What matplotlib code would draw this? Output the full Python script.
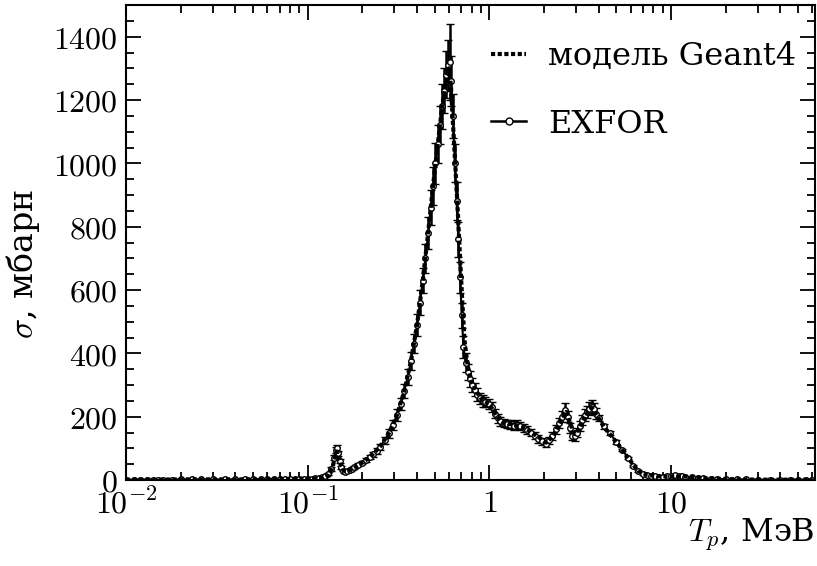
import matplotlib
matplotlib.use("Agg")
import matplotlib.pyplot as plt
from matplotlib.lines import Line2D
from matplotlib.ticker import FixedLocator, FuncFormatter, MultipleLocator, LogLocator, NullFormatter

plt.rcParams['mathtext.fontset'] = 'cm'
plt.rcParams['font.family'] = ['DejaVu Serif', 'Liberation Serif']

# EXFOR data (T_p in MeV, sigma in mbarn, error)
exfor_x = [0.010, 0.011, 0.012, 0.013, 0.014, 0.015, 0.016, 0.018, 0.020, 0.023, 0.026, 0.030,
           0.035, 0.040, 0.045, 0.050, 0.055, 0.060, 0.065, 0.070, 0.075, 0.080, 0.085, 0.090,
           0.095, 0.100, 0.105, 0.110, 0.115, 0.120, 0.125, 0.130, 0.135, 0.140, 0.143, 0.145,
           0.147, 0.150, 0.153, 0.156, 0.160, 0.165, 0.170, 0.175, 0.180, 0.190, 0.200, 0.210,
           0.220, 0.230, 0.240, 0.250, 0.265, 0.280, 0.295, 0.310, 0.325, 0.340, 0.355, 0.370,
           0.385, 0.400, 0.415, 0.430, 0.445, 0.460, 0.475, 0.490, 0.505, 0.520, 0.535, 0.550,
           0.565, 0.580, 0.595, 0.605, 0.615, 0.630, 0.645, 0.660, 0.675, 0.690, 0.705, 0.720,
           0.740, 0.760, 0.780, 0.800, 0.830, 0.860, 0.890, 0.920, 0.950, 0.990, 1.03, 1.07,
           1.11, 1.15, 1.20, 1.25, 1.30, 1.36, 1.42, 1.48, 1.55, 1.62, 1.70, 1.78, 1.86, 1.95,
           2.04, 2.13, 2.22, 2.32, 2.42, 2.52, 2.62, 2.70, 2.78, 2.86, 2.95, 3.05, 3.15, 3.25,
           3.35, 3.45, 3.55, 3.65, 3.75, 3.85, 4.00, 4.30, 4.60, 5.00, 5.40, 5.80, 6.20, 6.60,
           7.00, 7.40, 7.80, 8.20, 8.60, 9.00, 9.50, 10.0, 10.5, 11.0, 11.5, 12.0, 13.0, 14.0,
           15.0, 16.5, 18.0, 20.0, 23.0, 26.0, 30.0, 35.0, 40.0, 45.0, 50.0, 55.0, 60.0]
exfor_y = [1, 1, 1, 1, 1, 1, 1, 1, 2, 2, 2, 2,
           2, 2, 2, 2, 3, 3, 3, 3, 3, 3, 3, 3,
           3, 4, 4, 5, 6, 8, 12, 18, 35, 70, 95, 100,
           85, 60, 40, 30, 26, 28, 32, 36, 40, 48, 55, 64,
           72, 82, 92, 105, 125, 148, 175, 205, 240, 280, 325, 375,
           430, 490, 560, 630, 700, 780, 860, 930, 1000, 1060, 1120, 1180,
           1230, 1280, 1310, 1320, 1260, 1150, 1000, 880, 760, 640, 520, 420,
           370, 340, 320, 300, 285, 270, 258, 250, 245, 240, 230, 210,
           195, 185, 180, 178, 175, 172, 175, 170, 165, 158, 150, 140, 130, 122,
           115, 125, 140, 160, 180, 200, 222, 200, 165, 140, 138, 150, 170, 190,
           205, 215, 225, 232, 225, 210, 195, 170, 148, 120, 95, 70, 45, 28,
           18, 15, 12, 12, 11, 10, 12, 14, 15, 13, 12, 10, 8, 6,
           5, 4, 3, 3, 2, 2, 1, 1, 1, 1, 1, 1, 1]
exfor_err = [0, 0, 0, 0, 0, 0, 0, 0, 0, 0, 0, 0,
             0, 0, 0, 0, 0, 0, 0, 0, 0, 0, 0, 0,
             0, 0, 0, 0, 0, 1, 2, 3, 5, 8, 10, 10,
             8, 6, 4, 3, 3, 3, 3, 4, 4, 5, 5, 6,
             7, 8, 9, 10, 12, 14, 16, 18, 20, 22, 25, 28,
             30, 35, 40, 40, 45, 50, 55, 60, 65, 60, 60, 70,
             70, 75, 80, 120, 80, 70, 60, 60, 55, 50, 40, 35,
             30, 25, 25, 22, 20, 20, 18, 18, 16, 16, 15, 15,
             14, 14, 14, 13, 13, 13, 13, 13, 12, 12, 12, 12, 12, 12,
             12, 12, 13, 14, 15, 18, 20, 18, 15, 14, 14, 14, 15, 16,
             18, 18, 20, 20, 18, 16, 10, 8, 6, 5, 4, 3, 3, 3,
             3, 3, 3, 3, 3, 3, 3, 3, 3, 3, 3, 3, 2, 2,
             2, 1, 1, 1, 1, 1, 1, 1, 1, 1, 1, 1, 1]

# Geant4 model
model_x = [0.010, 0.015, 0.020, 0.030, 0.050, 0.080, 0.100, 0.110, 0.120, 0.130, 0.137, 0.142,
           0.145, 0.148, 0.152, 0.158, 0.165, 0.180, 0.200, 0.220, 0.250, 0.280, 0.310, 0.340,
           0.370, 0.400, 0.430, 0.460, 0.490, 0.520, 0.550, 0.580, 0.600, 0.615, 0.630, 0.650,
           0.670, 0.690, 0.710, 0.730, 0.760, 0.800, 0.860, 0.920, 1.00, 1.10, 1.20, 1.35,
           1.50, 1.70, 1.90, 2.05, 2.25, 2.45, 2.65, 2.80, 2.95, 3.15, 3.40, 3.65, 3.90, 4.30,
           5.00, 5.80, 6.60, 7.40, 8.50, 10.0, 12.0, 15.0, 20.0, 30.0, 45.0, 60.0]
model_y = [1, 1, 2, 2, 2, 3, 4, 5, 7, 15, 40, 75,
           90, 80, 50, 30, 27, 38, 55, 72, 105, 148, 205, 280,
           375, 490, 630, 780, 930, 1060, 1180, 1270, 1300, 1240, 1130, 990,
           850, 700, 560, 440, 360, 310, 275, 250, 240, 200, 180, 175,
           168, 152, 132, 118, 140, 180, 215, 175, 145, 165, 205, 228, 205, 165,
           120, 70, 28, 16, 12, 11, 11, 6, 3, 1, 1, 1]

fig = plt.figure(figsize=(8.17, 5.66), dpi=100)
ax = fig.add_axes([126/817, 1-480/566, (815-126)/817, (480-5)/566])

ax.plot(model_x, model_y, color='black', lw=3.0, ls=(0, (1.0, 0.6)), zorder=3)
ax.errorbar(exfor_x, exfor_y, yerr=exfor_err, color='black', lw=1.5, marker='o', ms=4,
            mfc='white', mec='black', mew=1.0, capsize=3, elinewidth=1.8, capthick=1.8,
            zorder=2)

ax.set_xscale('log')
ax.set_xlim(0.01, 62)
ax.set_ylim(0, 1500)

ax.xaxis.set_major_locator(FixedLocator([0.01, 0.1, 1, 10]))
ax.xaxis.set_major_formatter(FuncFormatter(lambda v, p: {0.01: r'$10^{-2}$', 0.1: r'$10^{-1}$', 1: r'$1$', 10: r'$10$'}.get(round(v, 4), '')))
ax.xaxis.set_minor_locator(LogLocator(base=10, subs=[2, 3, 4, 5, 6, 7, 8, 9], numticks=20))
ax.xaxis.set_minor_formatter(NullFormatter())
ax.yaxis.set_major_locator(MultipleLocator(200))
ax.yaxis.set_minor_locator(MultipleLocator(50))
ax.yaxis.set_major_formatter(FuncFormatter(lambda v, p: r'$%d$' % v))

ax.tick_params(which='both', direction='in', top=True, right=True, labelsize=23, width=1.3)
ax.tick_params(which='major', length=11)
ax.tick_params(which='minor', length=6)
ax.tick_params(axis='x', which='major', pad=6)
ax.tick_params(axis='y', which='major', pad=6)
for s in ax.spines.values():
    s.set_linewidth(1.5)

ax.set_xlabel(r'$T_p$, МэВ', fontsize=23, loc='right', labelpad=-2)
ax.set_ylabel(r'$\sigma$, мбарн', fontsize=24)
ax.yaxis.set_label_coords(-0.122, 0.455)

handles = [Line2D([], [], color='black', lw=3.0, ls=(0, (1.0, 0.6))),
           Line2D([], [], color='black', lw=1.8, marker='o', ms=5, mfc='white', mec='black', mew=1.0)]
leg = ax.legend(handles, ['модель Geant4', 'EXFOR'], loc='upper right', frameon=False,
                fontsize=23, handlelength=1.1, handletextpad=0.7,
                labelspacing=1.15, bbox_to_anchor=(1.015, 0.985))

fig.savefig('out.png', dpi=100)
